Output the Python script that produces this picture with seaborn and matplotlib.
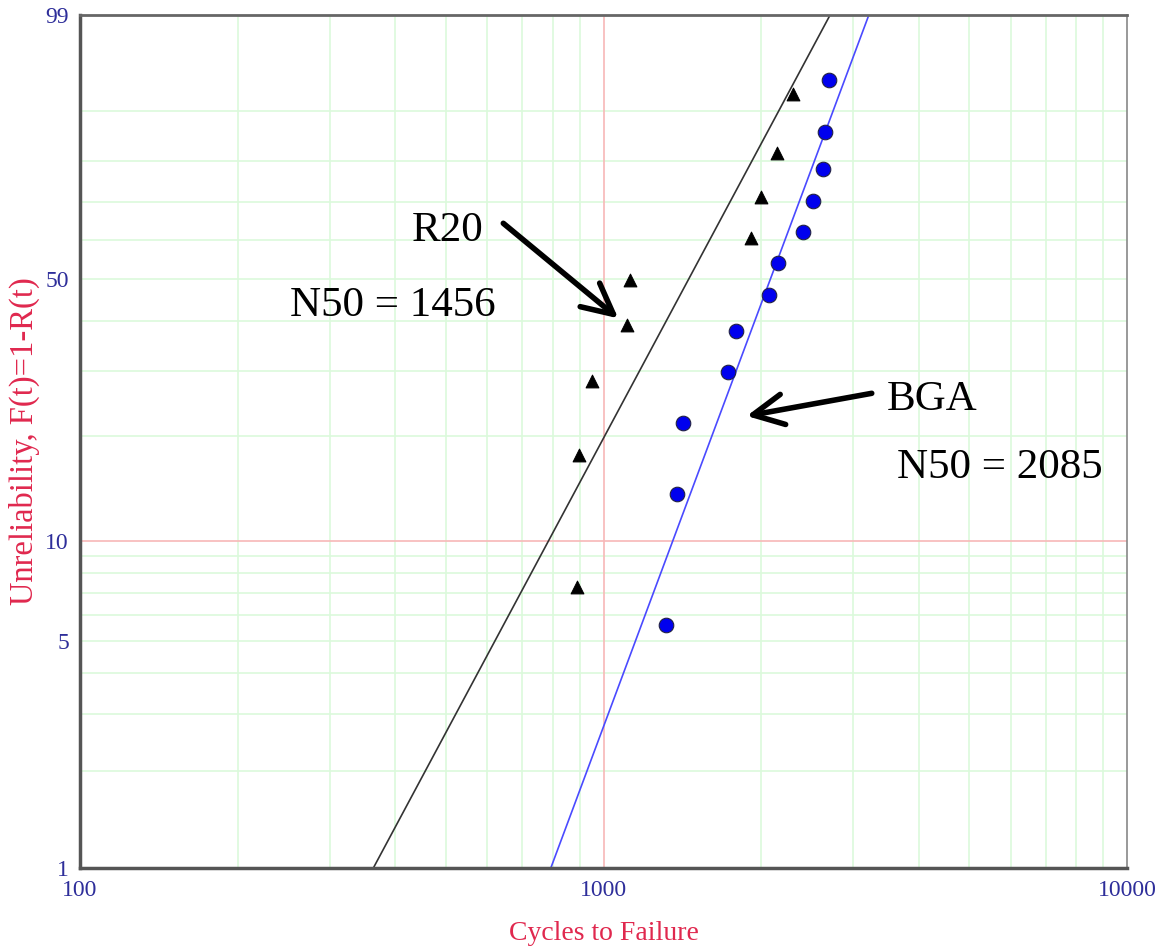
import numpy as np
import seaborn as sns
import matplotlib.pyplot as plt
from matplotlib.ticker import FixedLocator, FixedFormatter, NullLocator

# R20 failures (triangles): cycles and unreliability in %
r20_cycles = [891, 899, 949, 1107, 1124, 1910, 1996, 2142, 2304]
r20_unrel = [7.3, 17.7, 28.3, 39.2, 49.7, 60.5, 71.3, 81.9, 92.7]

# BGA failures (circles)
bga_cycles = [1316, 1383, 1420, 1727, 1791, 2074, 2152, 2408, 2516, 2629, 2649, 2693]
bga_unrel = [5.6, 13.7, 21.8, 29.8, 37.9, 46.0, 54.0, 62.1, 70.2, 78.2, 86.3, 94.4]

# weibull fit lines (shape, scale)
r20_beta, r20_eta = 3.05, 1642
bga_beta, bga_eta = 4.38, 2267
fit_span = [0.5, 99.9]   # unreliability % the fitted lines run between

y_ticks = [1, 5, 10, 50, 99]
x_ticks = [100, 1000, 10000]
y_grid = [2, 3, 4, 5, 6, 7, 8, 9, 20, 30, 40, 50, 60, 70, 80, 90]
x_grid = [200, 300, 400, 500, 600, 700, 800, 900,
          2000, 3000, 4000, 5000, 6000, 7000, 8000, 9000]


def weib_fwd(p):
    p = np.clip(np.asarray(p, dtype=float), 1e-6, 100 - 1e-6)
    return np.log(-np.log(1 - p / 100))


def weib_inv(w):
    return 100 * (1 - np.exp(-np.exp(w)))


def fit_cycles(beta, eta):
    p = np.array(fit_span)
    return eta * (-np.log(1 - p / 100)) ** (1 / beta)


sns.set_style('white')
plt.rcParams['font.family'] = ['Liberation Serif', 'DejaVu Serif']

fig = plt.figure(figsize=(11.63, 9.49), dpi=100)
ax = fig.add_axes([80 / 1163, 1 - 868 / 949, 1047 / 1163, 853 / 949])

# grid
for v in y_grid:
    ax.axhline(v, color='#dcf9dc', lw=1.2, zorder=0)
for v in x_grid:
    ax.axvline(v, color='#dcf9dc', lw=1.2, zorder=0)
ax.axhline(10, color='#f7b8b8', lw=1.2, zorder=0)
ax.axvline(1000, color='#f7b8b8', lw=1.2, zorder=0)

# fitted lines
sns.lineplot(x=fit_cycles(r20_beta, r20_eta), y=fit_span, color='#333333',
             lw=1.2, ax=ax, zorder=2)
sns.lineplot(x=fit_cycles(bga_beta, bga_eta), y=fit_span, color='#4a4aff',
             lw=1.2, ax=ax, zorder=2)

# data points
sns.scatterplot(x=r20_cycles, y=r20_unrel, marker='^', color='black',
                edgecolor='black', s=85, ax=ax, zorder=3)
sns.scatterplot(x=bga_cycles, y=bga_unrel, marker='o', color='#0000ee',
                edgecolor='#222244', linewidth=0.8, s=110, ax=ax, zorder=3)

ax.set_xscale('log')
ax.set_yscale('function', functions=(weib_fwd, weib_inv))
ax.set_xlim(100, 10000)
ax.set_ylim(1, 99)

ax.xaxis.set_major_locator(FixedLocator(x_ticks))
ax.xaxis.set_major_formatter(FixedFormatter([str(v) for v in x_ticks]))
ax.yaxis.set_major_locator(FixedLocator(y_ticks))
ax.yaxis.set_major_formatter(FixedFormatter([str(v) for v in y_ticks]))
ax.xaxis.set_minor_locator(NullLocator())
ax.yaxis.set_minor_locator(NullLocator())

ax.tick_params(axis='y', length=5, width=1, color='#f08080',
               labelcolor='#2e2e9a', labelsize=17, pad=3)
ax.tick_params(axis='x', length=4, width=1, color='#666666',
               labelcolor='#2e2e9a', labelsize=17, pad=5)

ax.spines['left'].set(linewidth=2.5, color='#555555')
ax.spines['bottom'].set(linewidth=2.5, color='#555555')
ax.spines['top'].set(linewidth=2, color='#666666')
ax.spines['right'].set(linewidth=1.2, color='#888888')

ax.set_xlabel('Cycles to Failure', fontsize=20, color='#e0284e', labelpad=14)
ax.set_ylabel('Unreliability, F(t)=1-R(t)', fontsize=23.5, color='#e0284e',
              labelpad=4)

# annotations
txt = dict(transform=ax.transAxes, fontsize=31, color='black',
           ha='left', va='baseline')
ax.text(0.3168, 0.7354, 'R20', **txt)
ax.text(0.2006, 0.6471, 'N50 = 1456', **txt)
ax.text(0.7705, 0.5369, 'BGA', **txt)
ax.text(0.7800, 0.4569, 'N50 = 2085', **txt)

arrow = dict(arrowstyle='->', lw=4, color='black', mutation_scale=55,
             shrinkA=0, shrinkB=0)
ax.annotate('', xy=(0.5141, 0.6444), xytext=(0.4043, 0.7558),
            xycoords='axes fraction', arrowprops=arrow)
ax.annotate('', xy=(0.6368, 0.5299), xytext=(0.7562, 0.5565),
            xycoords='axes fraction', arrowprops=arrow)

fig.savefig('out.png', dpi=100)
